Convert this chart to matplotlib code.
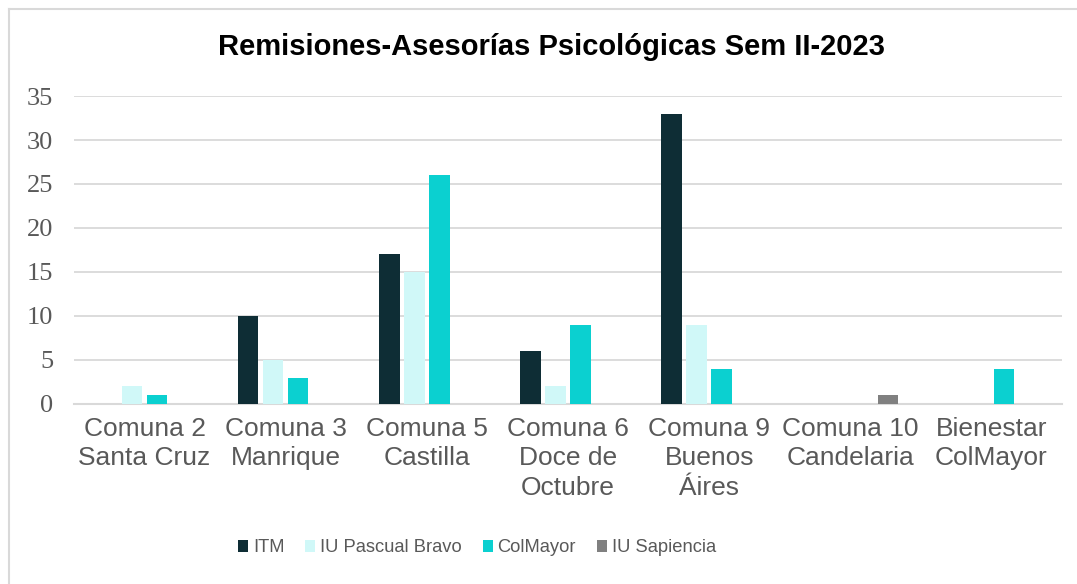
import matplotlib.pyplot as plt
import numpy as np
from matplotlib.lines import Line2D

categorias = ["Comuna 2\nSanta Cruz", "Comuna 3\nManrique", "Comuna 5\nCastilla",
              "Comuna 6\nDoce de\nOctubre", "Comuna 9\nBuenos\nÁires",
              "Comuna 10\nCandelaria", "Bienestar\nColMayor"]
itm = [0, 10, 17, 6, 33, 0, 0]
pascual_bravo = [2, 5, 15, 2, 9, 0, 0]
colmayor = [1, 3, 26, 9, 4, 0, 4]
sapiencia = [0, 0, 0, 0, 0, 1, 0]

series = ["ITM", "IU Pascual Bravo", "ColMayor", "IU Sapiencia"]
colores = ["#0e2d35", "#d0f8f8", "#0bd0d0", "#808080"]
valores = [itm, pascual_bravo, colmayor, sapiencia]

gris = "#595959"
W, H = 1077, 584

fig = plt.figure(figsize=(W/100, H/100), dpi=100)
ax = fig.add_axes([74/W, 1 - 404/H, (1062 - 74)/W, 308/H])

# marco del grafico (solo se ve arriba y a la izquierda)
fig.add_artist(Line2D([8.5/W, 8.5/W], [0, 1 - 8.5/H], color="#d9d9d9", linewidth=1.5))
fig.add_artist(Line2D([8.5/W, 1], [1 - 8.5/H, 1 - 8.5/H], color="#d9d9d9", linewidth=1.5))

x = np.arange(len(categorias))
paso = 25/141.1
ancho = 20.5/141.1
for i in range(4):
    ax.bar(x + (i - 1.5) * paso, valores[i], ancho, color=colores[i],
           label=series[i], zorder=3)

ax.set_xlim(-0.5, len(categorias) - 0.5)
ax.set_ylim(0, 35)
ax.set_yticks(range(0, 36, 5))
ax.yaxis.grid(True, color="#d9d9d9", linewidth=1.3, zorder=0)
ax.set_axisbelow(True)
for s in ["top", "right", "left"]:
    ax.spines[s].set_visible(False)
ax.spines["bottom"].set_color("#d9d9d9")
ax.spines["bottom"].set_linewidth(1.5)

ax.set_xticks(x)
ax.set_xticklabels(categorias, fontsize=19, color=gris, family="Liberation Sans",
                   linespacing=1.3)
ax.tick_params(axis="x", length=0, pad=9)
ax.tick_params(axis="y", length=0, pad=15, labelsize=19, labelcolor=gris)
for t in ax.get_yticklabels():
    t.set_family("Liberation Serif")

fig.text(551/W, 1 - 47/H, "Remisiones-Asesorías Psicológicas Sem II-2023",
         ha="center", va="center", fontsize=21, fontweight="bold",
         family="Liberation Sans", color="black")

fig.legend(loc="center", bbox_to_anchor=(477/W, 1 - 548/H), ncol=4,
           frameon=False, prop={"family": "Liberation Sans", "size": 13.2},
           labelcolor=gris, handlelength=0.55, handleheight=0.55,
           handletextpad=0.25, columnspacing=1.15)

plt.savefig("out.png", dpi=100)
